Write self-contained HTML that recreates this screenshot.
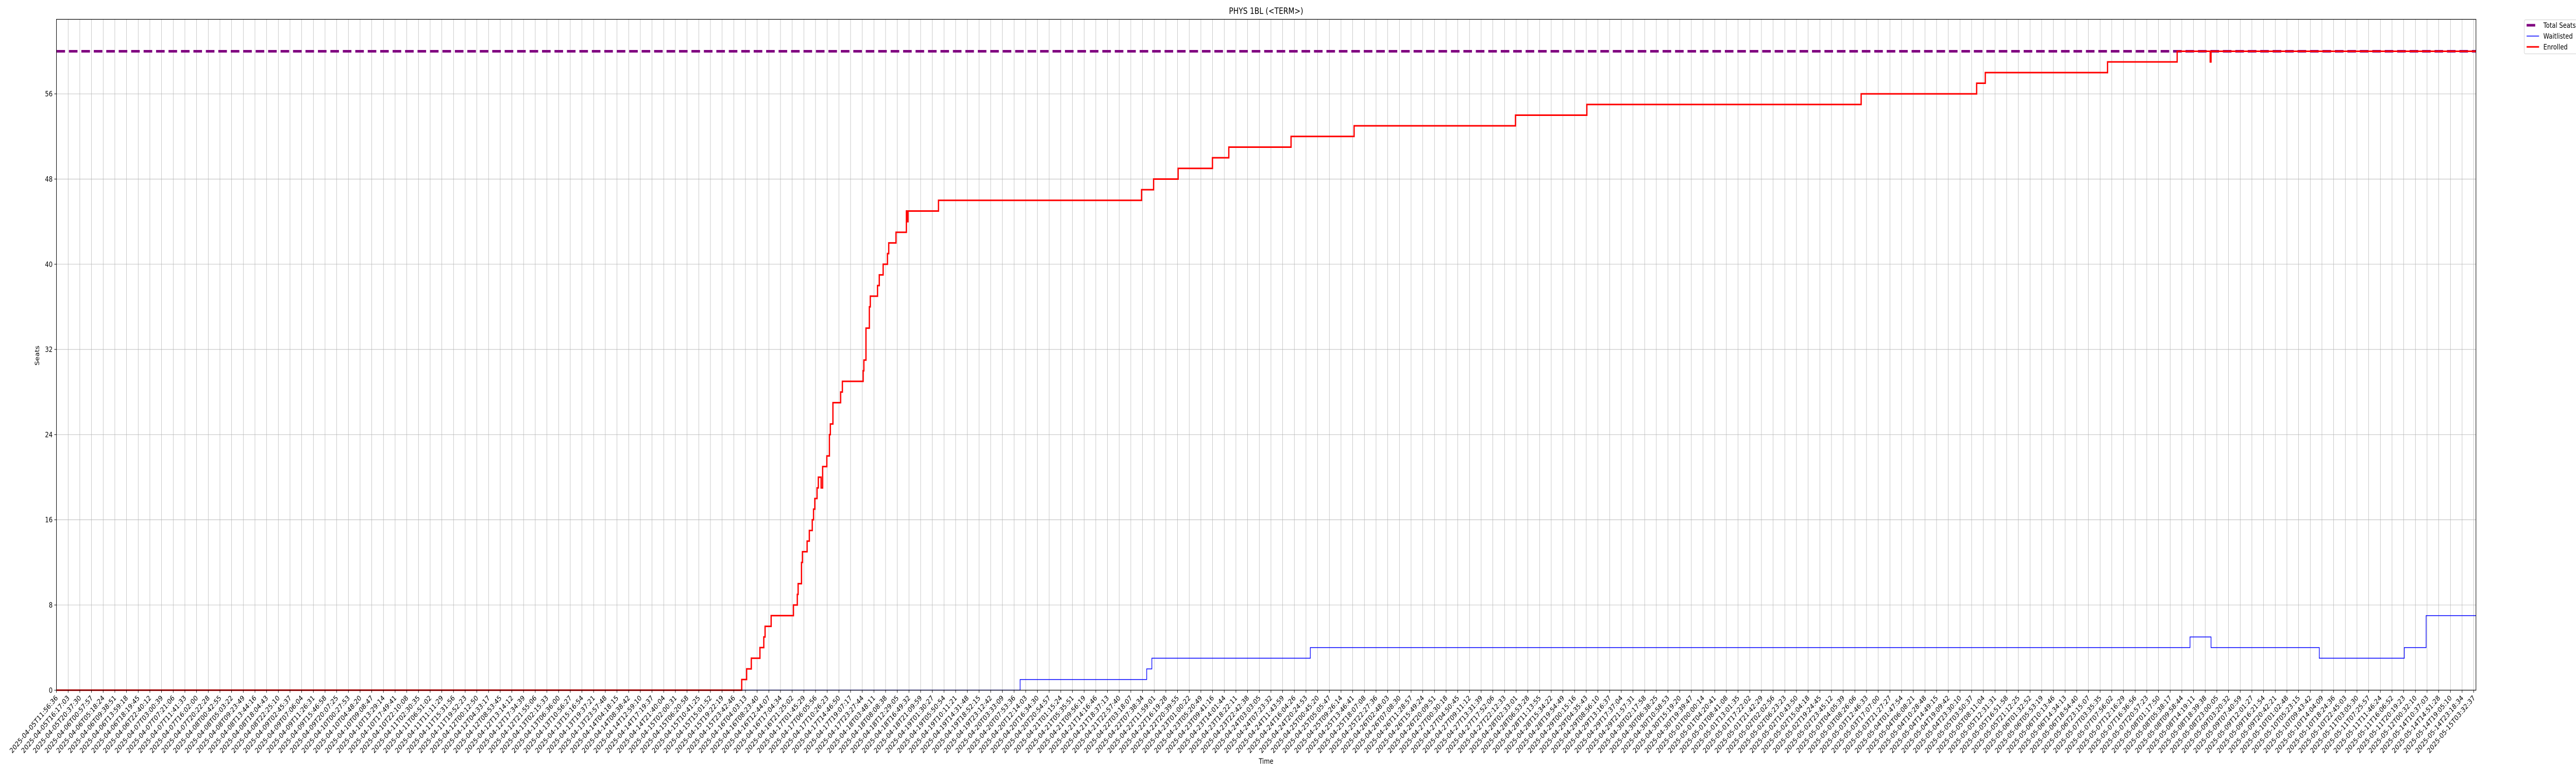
<!DOCTYPE html>
<html><head><meta charset="utf-8"><style>
html,body{margin:0;padding:0;background:#fff;width:100%;height:100%;overflow:hidden;}
svg{display:block;position:absolute;left:0;top:0;width:100vw;height:100vh;overflow:hidden;font-family:"DejaVu Sans","Liberation Sans",sans-serif;}
</style></head><body>
<svg id="chart" viewBox="0 0 6000 1500" preserveAspectRatio="none" xmlns="http://www.w3.org/2000/svg">
<rect x="0" y="0" width="6000" height="1500" fill="#fff"/>
<text x="2949" y="27" font-size="16.7" text-anchor="middle">PHYS 1BL (&lt;TERM&gt;)</text>
<text x="2949" y="1482" font-size="13.9" text-anchor="middle">Time</text>
<text x="0" y="0" font-size="13.9" text-anchor="middle" transform="translate(91,690) rotate(-90)">Seats</text>
<g id="grid"></g>
<g id="series"></g>
<g id="axes"></g>
<g>
<rect x="5879.5" y="38.5" width="125" height="66" rx="3" fill="#fff" stroke="#d0d0d0" stroke-width="1"/>
<line x1="5885" y1="49" x2="5905" y2="49" stroke="#800080" stroke-width="5"/>
<text x="5924" y="54" font-size="13.9">Total Seats</text>
<line x1="5885" y1="70" x2="5914" y2="70" stroke="#0000ff" stroke-width="1.5"/>
<text x="5924" y="75" font-size="13.9">Waitlisted</text>
<line x1="5885" y1="91" x2="5914" y2="91" stroke="#ff0000" stroke-width="3"/>
<text x="5924" y="96" font-size="13.9">Enrolled</text>
</g>
</svg>
<script>
// ---- data ----
const totalSeats = 60;
const yTicks = [0, 8, 16, 24, 32, 40, 48, 56];
const enrolledIdx = [0, 58.68, 59.10, 59.50, 60.24, 60.57, 60.68, 61.20, 63.11, 63.44, 63.51, 63.80, 63.88, 64.28, 64.47, 64.72, 64.83, 64.94, 65.13, 65.24, 65.48, 65.61, 65.97, 66.19, 66.27, 66.49, 67.15, 67.30, 69.08, 69.14, 69.32, 69.61, 69.69, 70.31, 70.46, 70.79, 71.16, 71.27, 71.89, 72.78, 72.85, 72.92, 75.53, 92.92, 93.95, 96.05, 98.99, 100.39, 105.72, 111.12, 124.94, 131.05, 154.54, 164.43, 165.17, 175.64, 181.60, 184.43, 184.50];
const enrolledVal = [0, 1, 2, 3, 4, 5, 6, 7, 8, 9, 10, 12, 13, 14, 15, 16, 17, 18, 19, 20, 19, 21, 22, 24, 25, 27, 28, 29, 30, 31, 34, 36, 37, 38, 39, 40, 41, 42, 43, 45, 44, 45, 46, 47, 48, 49, 50, 51, 52, 53, 54, 55, 56, 57, 58, 59, 60, 59, 60];
const waitIdx = [0, 82.52, 93.36, 93.80, 107.37, 182.70, 184.50, 193.77, 201.05, 202.92];
const waitVal = [0, 1, 2, 3, 4, 5, 4, 3, 4, 7];
const endIdx = 207.19;
const tailLabels = ["2025-05-11T16:06:52","2025-05-11T20:19:23","2025-05-12T00:32:10","2025-05-14T10:37:03","2025-05-14T14:51:28","2025-05-14T19:05:10","2025-05-14T23:18:34","2025-05-15T03:32:37"];
const headStart = "2025-04-05T11:56:36";
const headCount = 200;

// ---- layout ----
const L = 131.5, R = 5767, T = 37.5, B = 1339.3;
const yMax = 63.0;
const tickStep = 27.2;
const NS = "http://www.w3.org/2000/svg";
function xs(i){ return L + i * tickStep; }
function ys(v){ return B - v / yMax * (B - T); }
function mk(tag, attrs, parent){
  const e = document.createElementNS(NS, tag);
  for (const k in attrs) e.setAttribute(k, attrs[k]);
  parent.appendChild(e);
  return e;
}
function pad(n){ return String(n).padStart(2, "0"); }

const xLabels = [];
(function(){
  const s = Date.parse(headStart + "Z");
  const e = Date.parse(tailLabels[0] + "Z");
  const step = (e - s) / headCount;
  for (let i = 0; i < headCount; i++) {
    const d = new Date(s + i * step);
    xLabels.push(d.getUTCFullYear() + "-" + pad(d.getUTCMonth()+1) + "-" + pad(d.getUTCDate()) + "T" + pad(d.getUTCHours()) + ":" + pad(d.getUTCMinutes()) + ":" + pad(d.getUTCSeconds()));
  }
  tailLabels.forEach(t => xLabels.push(t));
})();

const grid = document.getElementById("grid");
const axes = document.getElementById("axes");
const series = document.getElementById("series");

xLabels.forEach((lab, i) => {
  const x = xs(i);
  const g = mk("line", {x1:x, y1:T, x2:x, y2:B, stroke:"#b0b0b0", "stroke-width":0.8}, grid);
  
  
  const tk = mk("line", {x1:x, y1:B, x2:x, y2:B+5, stroke:"#000", "stroke-width":1}, axes);
  
  
  const t = mk("text", {x:0, y:0, "font-size":13.9, "text-anchor":"end", transform:"translate(" + (x+4) + "," + (B+16) + ") rotate(-45)"}, axes);
  t.textContent = lab;
  
  
});
yTicks.forEach(v => {
  const y = ys(v);
  const g = mk("line", {x1:L, y1:y, x2:R, y2:y, stroke:"#b0b0b0", "stroke-width":0.8}, grid);
  
  
  const tk = mk("line", {x1:L-5, y1:y, x2:L, y2:y, stroke:"#000", "stroke-width":1}, axes);
  
  
  const t = mk("text", {x:L-9, y:y+5, "font-size":13.9, "text-anchor":"end"}, axes);
  t.textContent = String(v);
  
  
});
const frame = mk("rect", {x:L, y:T, width:R-L, height:B-T, fill:"none", stroke:"#000", "stroke-width":1.2}, axes);



function stepPath(idx, val){
  let d = "M" + xs(idx[0]) + "," + ys(val[0]);
  for (let i = 1; i < idx.length; i++) {
    d += " L" + xs(idx[i]) + "," + ys(val[i-1]) + " L" + xs(idx[i]) + "," + ys(val[i]);
  }
  d += " L" + xs(endIdx) + "," + ys(val[val.length-1]);
  return d;
}

const ts = mk("line", {x1:L, y1:ys(totalSeats), x2:R, y2:ys(totalSeats), stroke:"#800080", "stroke-width":5, "stroke-dasharray":"20,9"}, series);


const wl = mk("path", {d:stepPath(waitIdx, waitVal), fill:"none", stroke:"#0000ff", "stroke-width":1.5}, series);


const en = mk("path", {d:stepPath(enrolledIdx, enrolledVal), fill:"none", stroke:"#ff0000", "stroke-width":3}, series);


</script>
</body></html>
